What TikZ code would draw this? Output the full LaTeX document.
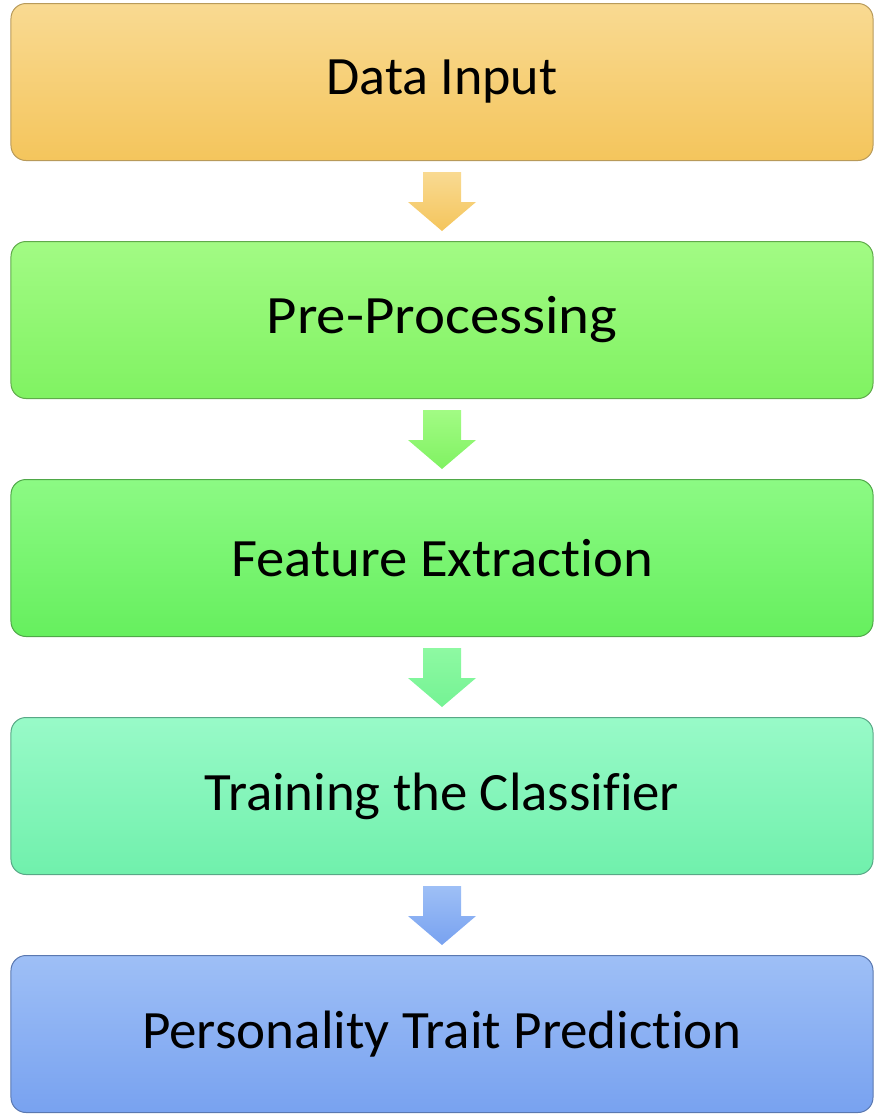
\documentclass[tikz,border=0pt]{standalone}
\usepackage{fontspec}
\setmainfont[Ligatures={NoCommon}]{Carlito}
\usetikzlibrary{calc}
\definecolor{oT}{HTML}{F9DA92}\definecolor{oB}{HTML}{F4C55C}\definecolor{oD}{HTML}{B89A5A}
\definecolor{gT}{HTML}{A2FB84}\definecolor{gB}{HTML}{80F262}\definecolor{gD}{HTML}{5FAA4A}
\definecolor{hT}{HTML}{8CFA84}\definecolor{hB}{HTML}{66EF5E}\definecolor{hD}{HTML}{4FA848}
\definecolor{tT}{HTML}{98FAC8}\definecolor{tB}{HTML}{70F0AC}\definecolor{tD}{HTML}{58A886}
\definecolor{bT}{HTML}{9EBFF6}\definecolor{bB}{HTML}{78A2F0}\definecolor{bD}{HTML}{5A78B0}
\definecolor{aT}{HTML}{8EF9A2}\definecolor{aB}{HTML}{74F394}
\tikzset{
  stage/.style={draw=#1D, line width=1bp, rounded corners=15bp, minimum width=862bp, minimum height=157bp,
    top color=#1T, bottom color=#1B, inner sep=0pt, font=\fontsize{54bp}{60bp}\selectfont},
  blockarrow/.style={top color=#1T, bottom color=#1B, draw=none}
}
\newcommand{\blockarr}[3]{%
  \path[blockarrow=#3] ($(#1.south)+(-19,11)$) -- ++(38,0) -- ++(0,30) -- ++(15,0)
    -- ($(#2.north)+(0,-10)$) -- ($(#1.south)+(-34,41)$) -- ++(15,0) -- cycle;}
\begin{document}
\begin{tikzpicture}[x=1bp,y=-1bp]
\useasboundingbox (0,0) rectangle (886,1117);
\node[stage=o] (b1) at (442,82) {Data Input};
\node[stage=g] (b2) at (442,320) {\scalebox{1.09}[1]{Pre-Processing}};
\node[stage=h] (b3) at (442,558) {\scalebox{1.05}[1]{Feature Extraction}};
\node[stage=t] (b4) at (442,796) {\scalebox{1.015}[1]{Training the Classifier}};
\node[stage=b] (b5) at (442,1034) {\scalebox{1.02}[1]{Personality Trait Prediction}};
\blockarr{b1}{b2}{o}
\blockarr{b2}{b3}{g}
\blockarr{b3}{b4}{a}
\blockarr{b4}{b5}{b}
\end{tikzpicture}
\end{document}
